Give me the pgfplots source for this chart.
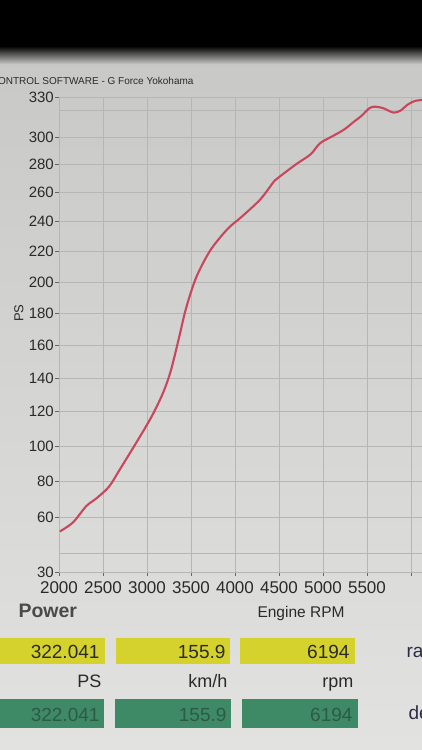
\documentclass[border=0pt]{standalone}
\usepackage{pgfplots}
\pgfplotsset{compat=1.18}
\usepackage{fontspec}
\setmainfont{Liberation Sans}
\definecolor{bgtop}{HTML}{C6C6C4}
\definecolor{bgbot}{HTML}{E2E2E0}
\definecolor{gridc}{HTML}{B6B6B4}
\definecolor{curvec}{HTML}{C9475C}
\definecolor{txt}{HTML}{2A2A2A}
\definecolor{yellowbox}{HTML}{D5D22E}
\definecolor{greenbox}{HTML}{3F8A66}
\definecolor{greentxt}{HTML}{2C5A45}
\definecolor{navytxt}{HTML}{2B2B45}
\begin{document}
\begin{tikzpicture}[x=1pt,y=1pt]
\useasboundingbox (0,0) rectangle (422,-750);
\clip (0,0) rectangle (422,-750);
\shade[top color=bgtop, bottom color=bgbot] (0,0) rectangle (422,-750);
\fill[black] (0,0) rectangle (422,-46);
\shade[top color=black, bottom color=bgtop] (0,-46) rectangle (422,-64);
\node[anchor=base east, font=\fontsize{10}{12}\selectfont, text=txt] at (197,-84) {CONTROL SOFTWARE - G Force Yokohama};
\begin{axis}[
  at={(59pt,-572pt)}, anchor=south west,
  scale only axis, width=363pt, height=475pt,
  xmin=2000, xmax=6125,
  ymin=30, ymax=330,
  y coord trafo/.code={\pgfmathparse{(#1-30)*(1-0.000511*(#1-30))}},
  axis lines*=left,
  axis line style={draw=gridc, line width=0.6pt},
  grid=major,
  grid style={draw=gridc, line width=0.6pt},
  xtick={2000,2500,3000,3500,4000,4500,5000,5500,6000},
  xticklabels={2000,2500,3000,3500,4000,4500,5000,5500,{}},
  ytick={30,60,80,100,120,140,160,180,200,220,240,260,280,300,330},
  yticklabels={30,60,80,100,120,140,160,180,200,220,240,260,280,300,330},
  extra y ticks={40,320},
  extra y tick labels={{},{}},
  extra y tick style={major tick length=0pt, grid=major},
  tick align=outside,
  major tick length=4pt,
  tick style={draw=black!60, line width=0.6pt},
  yticklabel style={font=\fontsize{15}{15}\selectfont, text=txt, inner sep=1pt},
  xticklabel style={font=\fontsize{17}{17}\selectfont, text=txt, inner sep=1pt, yshift=-4pt},
  clip=true,
]
\addplot[curvec, line width=2.1pt, smooth, tension=0.5] coordinates {
(2010,52) (2160,57) (2310,66) (2430,70.5) (2570,77) (2690,86.5)
(2890,103) (3050,117) (3180,131) (3270,144.5) (3360,164) (3442,183)
(3557,203) (3718,221) (3915,235.5) (4070,243.5) (4290,256) (4450,269)
(4520,272.5) (4700,281) (4860,288) (4965,296) (5100,301) (5235,306)
(5350,312) (5446,317) (5520,322) (5580,323.5) (5680,322.5) (5800,319)
(5880,320.5) (5960,325) (6030,327.5) (6100,328.5) (6300,328.5)
};
\end{axis}
\node[rotate=90, font=\fontsize{13}{13}\selectfont, text=txt] at (19,-313) {PS};
% bottom panel
\node[anchor=base west, font=\fontsize{19.5}{20}\selectfont\bfseries, text=txt!85] at (15,-617) {Power};
\node[anchor=base west, font=\fontsize{15.5}{16}\selectfont, text=txt] at (254,-617) {Engine RPM};
\fill[yellowbox] (0,-638) rectangle (105,-664);
\fill[yellowbox] (116,-638) rectangle (230,-664);
\fill[yellowbox] (240,-638) rectangle (355,-664);
\node[anchor=base east, font=\fontsize{19}{19}\selectfont, text=txt] at (103,-658) {322.041};
\node[anchor=base east, font=\fontsize{19}{19}\selectfont, text=txt] at (229,-658) {155.9};
\node[anchor=base east, font=\fontsize{19}{19}\selectfont, text=txt] at (353,-658) {6194};
\node[anchor=base west, font=\fontsize{19}{19}\selectfont, text=navytxt] at (403,-657) {ra};
\node[anchor=base east, font=\fontsize{18}{18}\selectfont, text=txt] at (105,-687) {PS};
\node[anchor=base east, font=\fontsize{18}{18}\selectfont, text=txt] at (231,-687) {km/h};
\node[anchor=base east, font=\fontsize{18}{18}\selectfont, text=txt] at (357,-687) {rpm};
\fill[greenbox] (0,-699) rectangle (104,-728);
\fill[greenbox] (115,-699) rectangle (231,-728);
\fill[greenbox] (242,-699) rectangle (358,-728);
\node[anchor=base east, font=\fontsize{19}{19}\selectfont, text=greentxt] at (103,-721) {322.041};
\node[anchor=base east, font=\fontsize{19}{19}\selectfont, text=greentxt] at (230,-721) {155.9};
\node[anchor=base east, font=\fontsize{19}{19}\selectfont, text=greentxt] at (356,-721) {6194};
\node[anchor=base west, font=\fontsize{19}{19}\selectfont, text=navytxt] at (405,-719) {de};
\end{tikzpicture}
\end{document}
